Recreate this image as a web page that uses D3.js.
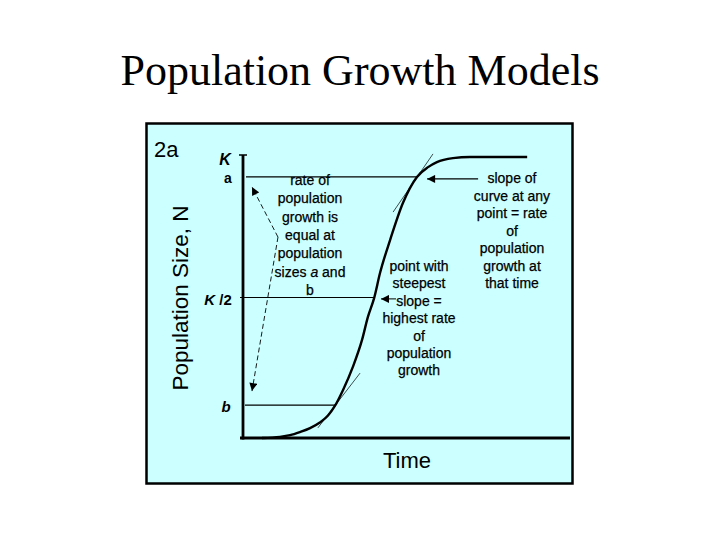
<!DOCTYPE html>
<html>
<head>
<meta charset="utf-8">
<script src="https://cdn.jsdelivr.net/npm/d3@7"></script>
<style>
  html, body { margin: 0; padding: 0; background: #ffffff; }
  svg { display: block; }
</style>
</head>
<body>
<svg id="chart" width="720" height="540"></svg>
<script>
// ---- data ----
const titleText = "Population Growth Models";
const panelLabel = "2a";
const yAxisLabel = "Population Size, N";
const xAxisLabel = "Time";

// logistic curve (time in arbitrary units 0..100, N as fraction of K)
const curveTime = [5.8, 11.3, 14.4, 17.4, 20.5, 23.5, 26.0, 28.1, 30.6, 33.6, 36.4, 38.2, 40.1, 41.9, 45.0, 48.9, 53.2, 56.6, 59.3, 64.2, 69.4, 86.9];
const curveN    = [0, 0.004, 0.010, 0.021, 0.035, 0.055, 0.080, 0.114, 0.171, 0.253, 0.349, 0.431, 0.498, 0.587, 0.705, 0.836, 0.929, 0.964, 0.982, 0.996, 1.0, 1.0];

// reference levels
const levelNames  = ["a", "K/2", "b"];
const levelValues = [0.929, 0.5, 0.117];
const carryingK = 1.0;

// tangent lines [t, N] pairs
const tangentA = [[45.9, 0.804], [58.1, 1.011]];
const tangentB = [[22.9, 0.036], [35.8, 0.231]];

// arrows
const arrowSlope  = [[71.9, 0.922], [56.3, 0.922]];
const arrowSteep  = [[46.8, 0.495], [42.2, 0.495]];
const dashedUpper = [[10.7, 0.715], [2.75, 0.893]];
const dashedLower = [[10.7, 0.715], [2.75, 0.167]];

// annotation text blocks
const textEqual  = ["rate of", "population", "growth is", "equal at", "population", "sizes |a| and", "b"];
const textSteep  = ["point with", "steepest", "slope =", "highest rate", "of", "population", "growth"];
const textSlope  = ["slope of", "curve at any", "point = rate", "of", "population", "growth at", "that time"];

// ---- drawing ----
const svg = d3.select("#chart");
const x = d3.scaleLinear().domain([0, 100]).range([243, 570]);
const y = d3.scaleLinear().domain([0, 1]).range([438, 157]);

// title
svg.append("text")
  .attr("x", 360).attr("y", 85)
  .attr("text-anchor", "middle")
  .style("font-family", "'Liberation Serif', 'Times New Roman', serif")
  .style("font-size", "44px")
  .attr("fill", "#000")
  .text(titleText);

// panel
svg.append("rect")
  .attr("x", 146.5).attr("y", 123.5)
  .attr("width", 426).attr("height", 360)
  .attr("fill", "#ccffff")
  .attr("stroke", "#000").attr("stroke-width", 2.5);

const sans = "'Liberation Sans', Arial, sans-serif";

svg.append("text").attr("x", 154).attr("y", 157)
  .style("font-family", sans).style("font-size", "22px").text(panelLabel);

svg.append("text")
  .attr("transform", `translate(188,298) rotate(-90)`)
  .attr("text-anchor", "middle")
  .style("font-family", sans).style("font-size", "22.5px").text(yAxisLabel);

svg.append("text").attr("x", 407).attr("y", 468)
  .attr("text-anchor", "middle")
  .style("font-family", sans).style("font-size", "22px").text(xAxisLabel);

// markers
const defs = svg.append("defs");
defs.append("marker").attr("id", "ah")
  .attr("viewBox", "0 0 10 10").attr("refX", 10).attr("refY", 5)
  .attr("markerWidth", 10).attr("markerHeight", 8)
  .attr("markerUnits", "userSpaceOnUse")
  .attr("orient", "auto")
  .append("path").attr("d", "M0,0 L10,5 L0,10 Z").attr("fill", "#000");

// intersection of a level with the curve (linear between read points)
function timeAtLevel(level) {
  for (let i = 1; i < curveN.length; i++) {
    if (curveN[i] >= level) {
      const f = (level - curveN[i - 1]) / (curveN[i] - curveN[i - 1]);
      return curveTime[i - 1] + f * (curveTime[i] - curveTime[i - 1]);
    }
  }
  return curveTime[curveTime.length - 1];
}

// level lines
const levelStart = { "a": 3, "K/2": -3, "b": 2 };
levelNames.forEach((name, i) => {
  const v = levelValues[i];
  svg.append("line")
    .attr("x1", x(0) + levelStart[name]).attr("x2", x(timeAtLevel(v)))
    .attr("y1", y(v)).attr("y2", y(v))
    .attr("stroke", "#000").attr("stroke-width", 1.2);
});

// axes
svg.append("line")
  .attr("x1", x(0)).attr("x2", x(0))
  .attr("y1", y(carryingK) - 2).attr("y2", y(0) + 1.5)
  .attr("stroke", "#000").attr("stroke-width", 2.8);
svg.append("line")
  .attr("x1", x(0) - 4).attr("x2", x(0) + 4)
  .attr("y1", y(carryingK) - 2).attr("y2", y(carryingK) - 2)
  .attr("stroke", "#000").attr("stroke-width", 1.5);
svg.append("line")
  .attr("x1", x(0) - 3).attr("x2", x(100))
  .attr("y1", y(0)).attr("y2", y(0))
  .attr("stroke", "#000").attr("stroke-width", 2.8);

// tick labels
function tickLabel(px, py, size, parts) {
  const t = svg.append("text").attr("x", px).attr("y", py)
    .attr("text-anchor", "middle")
    .style("font-family", sans).style("font-size", size)
    .style("font-weight", "bold");
  parts.forEach(p => t.append("tspan").style("font-style", p.it ? "italic" : "normal").text(p.s));
}
tickLabel(225, y(carryingK) + 8, "16px", [{ s: "K", it: true }]);
tickLabel(228, y(levelValues[0]) + 6, "14px", [{ s: "a", it: false }]);
tickLabel(218, y(levelValues[1]) + 7, "15px", [{ s: "K", it: true }, { s: " /2", it: false }]);
tickLabel(226, y(levelValues[2]) + 7, "15px", [{ s: "b", it: true }]);

// tangent lines
[tangentA, tangentB].forEach(tg => {
  svg.append("line")
    .attr("x1", x(tg[0][0])).attr("y1", y(tg[0][1]))
    .attr("x2", x(tg[1][0])).attr("y2", y(tg[1][1]))
    .attr("stroke", "#000").attr("stroke-width", 0.7);
});

// logistic curve
const pts = curveTime.map((t, i) => [t, curveN[i]]);
svg.append("path")
  .datum(pts)
  .attr("d", d3.line().x(d => x(d[0])).y(d => y(d[1])).curve(d3.curveMonotoneX))
  .attr("fill", "none").attr("stroke", "#000").attr("stroke-width", 2.4);

// arrows
function arrow(a, dashed, w) {
  svg.append("line")
    .attr("x1", x(a[0][0])).attr("y1", y(a[0][1]))
    .attr("x2", x(a[1][0])).attr("y2", y(a[1][1]))
    .attr("stroke", "#000").attr("stroke-width", w)
    .attr("stroke-dasharray", dashed ? "5,3" : null)
    .attr("marker-end", "url(#ah)");
}
arrow(arrowSlope, false, 1.2);
arrow(arrowSteep, false, 1);
arrow(dashedUpper, true, 0.9);
arrow(dashedLower, true, 0.9);

// annotation text
function block(lines, cx, y0, step) {
  lines.forEach((ln, i) => {
    const t = svg.append("text")
      .attr("x", cx).attr("y", y0 + i * step)
      .attr("text-anchor", "middle")
      .style("font-family", sans).style("font-size", "14px")
      .attr("fill", "#000").attr("stroke", "#000").attr("stroke-width", 0.25);
    ln.split("|").forEach((seg, j) => {
      t.append("tspan").style("font-style", j % 2 === 1 ? "italic" : "normal").text(seg);
    });
  });
}
block(textEqual, 310, 185, 18.3);
block(textSteep, 419, 271, 17.4);
block(textSlope, 512, 183, 17.5);
</script>
</body>
</html>
